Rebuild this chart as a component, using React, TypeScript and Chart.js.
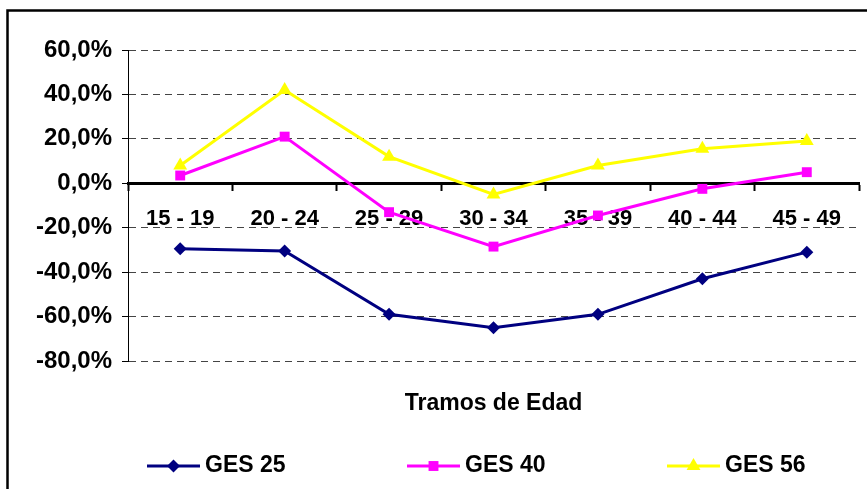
import { useEffect, useRef } from 'react';
import { Chart, registerables } from 'chart.js';

Chart.register(...registerables);

const categories = ['15 - 19', '20 - 24', '25 - 29', '30 - 34', '35 - 39', '40 - 44', '45 - 49'];
const ges25 = [-29.5, -30.5, -59, -65, -59, -43, -31];
const ges40 = [3.5, 21, -13, -28.5, -14.5, -2.5, 5];
const ges56 = [8, 42, 12, -5, 8, 15.5, 19];
const seriesLabels = ['GES 25', 'GES 40', 'GES 56'];
const yMin = -80;
const yMax = 60;
const yStep = 20;
const axisTitle = 'Tramos de Edad';

const FONT = '"Liberation Sans", Arial, sans-serif';
const COLORS = ['#000080', '#FF00FF', '#FFFF00'];
const STYLES = ['rectRot', 'rect', 'triangle'];
const RADII = [6.5, 7, 8];

function fmt(v: number) {
  return v.toFixed(1).replace('.', ',') + '%';
}

function marker(ctx: CanvasRenderingContext2D, style: string, x: number, y: number, r: number) {
  ctx.beginPath();
  if (style === 'rectRot') {
    ctx.moveTo(x, y - r);
    ctx.lineTo(x + r, y);
    ctx.lineTo(x, y + r);
    ctx.lineTo(x - r, y);
  } else if (style === 'rect') {
    const s = r * Math.SQRT1_2;
    ctx.rect(x - s, y - s, 2 * s, 2 * s);
  } else {
    ctx.moveTo(x, y - r);
    ctx.lineTo(x + r * Math.sin(Math.PI / 3), y + r * 0.5);
    ctx.lineTo(x - r * Math.sin(Math.PI / 3), y + r * 0.5);
  }
  ctx.closePath();
  ctx.fill();
}

const decorPlugin = {
  id: 'decor',
  beforeDraw(chart: any) {
    const ctx = chart.ctx as CanvasRenderingContext2D;
    ctx.save();
    ctx.fillStyle = '#ffffff';
    ctx.fillRect(0, 0, chart.width, chart.height);
    ctx.strokeStyle = '#000';
    ctx.lineWidth = 2.5;
    ctx.beginPath();
    ctx.moveTo(7.5, chart.height + 5);
    ctx.lineTo(7.5, 10.5);
    ctx.lineTo(chart.width + 5, 10.5);
    ctx.stroke();
    ctx.restore();
  },
  afterDraw(chart: any) {
    const ctx = chart.ctx as CanvasRenderingContext2D;
    const area = chart.chartArea;
    ctx.save();
    ctx.fillStyle = '#000';
    ctx.font = `bold 23px ${FONT}`;
    ctx.textAlign = 'center';
    ctx.textBaseline = 'middle';
    ctx.fillText(axisTitle, (area.left + area.right) / 2, 404);
    // legend
    const startX = [147, 407, 667];
    const ly = 466;
    chart.data.datasets.forEach((ds: any, i: number) => {
      const x0 = startX[i];
      ctx.strokeStyle = ds.borderColor;
      ctx.lineWidth = 3;
      ctx.beginPath();
      ctx.moveTo(x0, ly);
      ctx.lineTo(x0 + 53, ly);
      ctx.stroke();
      ctx.fillStyle = ds.borderColor;
      marker(ctx, STYLES[i], x0 + 26.5, ly, RADII[i]);
      ctx.fillStyle = '#000';
      ctx.textAlign = 'left';
      ctx.font = `bold 23px ${FONT}`;
      ctx.fillText(ds.label, x0 + 58, ly);
    });
    ctx.restore();
  },
};

export default function App() {
  const ref = useRef<HTMLCanvasElement>(null);
  useEffect(() => {
    document.body.style.margin = '0';
    const series = [ges25, ges40, ges56];
    const chart = new Chart(ref.current!, {
      type: 'line',
      data: {
        labels: categories,
        datasets: series.map((d, i) => ({
          label: seriesLabels[i],
          data: d,
          borderColor: COLORS[i],
          backgroundColor: COLORS[i],
          borderWidth: 3,
          pointStyle: STYLES[i] as any,
          pointRadius: RADII[i],
          pointBorderWidth: 0,
          pointBackgroundColor: COLORS[i],
          tension: 0,
        })),
      },
      options: {
        responsive: false,
        animation: false,
        layout: { padding: { top: 50, bottom: 128, left: 0, right: 1 } },
        plugins: { legend: { display: false }, tooltip: { enabled: false }, title: { display: false } },
        scales: {
          x: {
            type: 'category',
            position: { y: 0 } as any,
            offset: true,
            grid: {
              offset: true,
              drawOnChartArea: false,
              drawTicks: true,
              tickLength: 6,
              tickWidth: 2,
              tickColor: '#000',
            },
            border: { display: true, color: '#000', width: 3 },
            ticks: {
              color: '#000',
              padding: 16,
              maxRotation: 0,
              autoSkip: false,
              font: { family: FONT, size: 22, weight: 'bold' },
            },
          },
          y: {
            min: yMin,
            max: yMax,
            afterFit: (s: any) => {
              s.width = 128;
            },
            afterBuildTicks: (s: any) => {
              const t = [];
              for (let v = yMin; v <= yMax; v += yStep) t.push({ value: v });
              s.ticks = t;
            },
            grid: {
              color: (c: any) => (c.tick && c.tick.value === 0 ? 'rgba(0,0,0,0)' : '#444'),
              lineWidth: 1,
              tickLength: 6,
              tickColor: '#000',
              tickWidth: 1,
            },
            border: { display: true, color: '#000', width: 1, dash: [7, 5] },
            ticks: {
              color: '#000',
              padding: 10,
              callback: (v: any) => fmt(Number(v)),
              font: { family: FONT, size: 24, weight: 'bold' },
            },
          },
        },
      },
      plugins: [decorPlugin],
    });
    return () => chart.destroy();
  }, []);
  return (
    <div style={{ position: 'fixed', left: 0, top: 0, width: 867, height: 489, background: '#fff' }}>
      <canvas ref={ref} width={867} height={489} style={{ display: 'block', width: 867, height: 489 }} />
    </div>
  );
}
